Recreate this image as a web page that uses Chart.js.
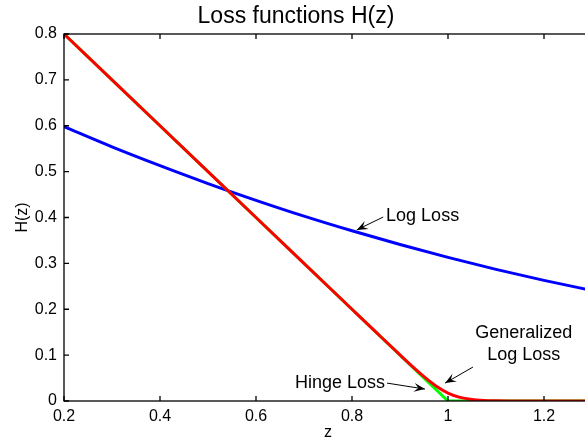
<!DOCTYPE html>
<html>
<head>
<meta charset="utf-8">
<script src="https://cdn.jsdelivr.net/npm/chart.js@4"></script>
<style>
  html, body { margin: 0; padding: 0; overflow: hidden; background: #fff; }
  #wrap { width: 656px; height: 445px; }
</style>
</head>
<body>
<div id="wrap"><canvas id="c"></canvas></div>
<script>
// values
const zLog = [0.2, 0.3, 0.4, 0.5, 0.6, 0.7, 0.8, 0.9, 1.0, 1.1, 1.2, 1.3]
const logLoss = [0.598, 0.554, 0.513, 0.474, 0.4375, 0.403, 0.371, 0.341, 0.313, 0.287, 0.263, 0.241]

const zHinge = [0.2, 1.0, 1.3]
const hingeLoss = [0.8, 0, 0]

const zGen = [0.2, 0.4, 0.6, 0.8, 0.85, 0.9, 0.925, 0.95, 0.975, 1.0, 1.025, 1.05, 1.075, 1.1, 1.15, 1.2, 1.3]
const genLoss = [0.8, 0.6, 0.4, 0.2, 0.1501, 0.1005, 0.0762, 0.0532, 0.0328, 0.0173, 0.0078, 0.0032, 0.0012, 0.0005, 0.0001, 0, 0]

const xTicks = [0.2, 0.4, 0.6, 0.8, 1.0, 1.2]
const yTicks = [0, 0.1, 0.2, 0.3, 0.4, 0.5, 0.6, 0.7, 0.8]

// text arrows, in data units
const notes = [
  { lines: ['Log Loss'], at: [0.871, 0.403], align: 'left', tail: [0.865, 0.401], tip: [0.810, 0.373] },
  { lines: ['Generalized', 'Log Loss'], at: [1.158, 0.148], align: 'center', tail: [1.052, 0.074], tip: [0.994, 0.039] },
  { lines: ['Hinge Loss'], at: [0.869, 0.039], align: 'right', tail: [0.873, 0.039], tip: [0.952, 0.026] }
]

const FONT = "'Liberation Sans', Arial, sans-serif"
const pts = (xs, ys) => xs.map((x, i) => ({ x: x, y: ys[i] }))
const fmt = (v) => String(+Number(v).toFixed(2))

const frame = {
  id: 'frame',
  afterDraw(chart) {
    const { ctx, chartArea: a, scales } = chart
    ctx.save()
    ctx.strokeStyle = '#000'
    ctx.lineWidth = 1.3
    ctx.strokeRect(a.left, a.top, a.right - a.left, a.bottom - a.top)
    ctx.beginPath()
    xTicks.forEach(v => {
      const x = scales.x.getPixelForValue(v)
      ctx.moveTo(x, a.bottom); ctx.lineTo(x, a.bottom - 5)
      ctx.moveTo(x, a.top); ctx.lineTo(x, a.top + 5)
    })
    yTicks.forEach(v => {
      const y = scales.y.getPixelForValue(v)
      ctx.moveTo(a.left, y); ctx.lineTo(a.left + 5, y)
    })
    ctx.stroke()

    // annotations
    ctx.fillStyle = '#000'
    ctx.font = '18px ' + FONT
    ctx.textBaseline = 'middle'
    notes.forEach(n => {
      const tx = scales.x.getPixelForValue(n.at[0])
      const ty = scales.y.getPixelForValue(n.at[1])
      ctx.textAlign = n.align
      n.lines.forEach((s, i) => ctx.fillText(s, tx, ty + i * 22))
      const x0 = scales.x.getPixelForValue(n.tail[0]), y0 = scales.y.getPixelForValue(n.tail[1])
      const x1 = scales.x.getPixelForValue(n.tip[0]), y1 = scales.y.getPixelForValue(n.tip[1])
      const ang = Math.atan2(y1 - y0, x1 - x0)
      ctx.lineWidth = 1
      ctx.beginPath(); ctx.moveTo(x0, y0); ctx.lineTo(x1, y1); ctx.stroke()
      const L = 11, W = 4.5
      const bx = x1 - L * Math.cos(ang), by = y1 - L * Math.sin(ang)
      const nx = x1 - 0.6 * L * Math.cos(ang), ny = y1 - 0.6 * L * Math.sin(ang)
      ctx.beginPath()
      ctx.moveTo(x1, y1)
      ctx.lineTo(bx + W * Math.sin(ang), by - W * Math.cos(ang))
      ctx.lineTo(nx, ny)
      ctx.lineTo(bx - W * Math.sin(ang), by + W * Math.cos(ang))
      ctx.closePath()
      ctx.fill()
    })
    ctx.restore()
  }
}

new Chart(document.getElementById('c'), {
  type: 'scatter',
  data: {
    datasets: [
      { label: 'Log Loss', data: pts(zLog, logLoss), borderColor: '#0000ff', order: 2 },
      { label: 'Hinge Loss', data: pts(zHinge, hingeLoss), borderColor: '#00ff00', order: 1, cubicInterpolationMode: 'default', tension: 0 },
      { label: 'Generalized Log Loss', data: pts(zGen, genLoss), borderColor: '#ff0000', order: 0 }
    ]
  },
  options: {
    responsive: true,
    maintainAspectRatio: false,
    animation: false,
    showLine: true,
    datasets: {
      scatter: { showLine: true, pointRadius: 0, borderWidth: 3, cubicInterpolationMode: 'monotone', fill: false }
    },
    layout: { padding: { left: 0, right: 64, top: 0, bottom: 0 } },
    plugins: {
      legend: { display: false },
      tooltip: { enabled: false },
      title: {
        display: true,
        text: 'Loss functions H(z)',
        color: '#000',
        font: { family: FONT, size: 23, weight: 'normal' },
        padding: { top: 3, bottom: 3.4 }
      }
    },
    scales: {
      x: {
        type: 'linear',
        min: 0.2, max: 1.3,
        afterBuildTicks: (s) => { s.ticks = xTicks.map(v => ({ value: v })) },
        afterFit: (s) => { s.height = 44 },
        grid: { display: false, drawTicks: false },
        border: { display: false },
        ticks: { color: '#000', font: { family: FONT, size: 16 }, padding: 6, maxRotation: 0, autoSkip: false, callback: fmt },
        title: { display: true, text: 'z', color: '#000', font: { family: FONT, size: 16 }, padding: { top: 0, bottom: 2.4 } }
      },
      y: {
        type: 'linear',
        min: 0, max: 0.8,
        afterBuildTicks: (s) => { s.ticks = yTicks.map(v => ({ value: v })) },
        afterFit: (s) => { s.width = 64 },
        grid: { display: false, drawTicks: false },
        border: { display: false },
        ticks: { color: '#000', font: { family: FONT, size: 16 }, padding: 7, autoSkip: false, callback: fmt },
        title: { display: true, text: 'H(z)', color: '#000', font: { family: FONT, size: 16 }, padding: { top: 13, bottom: 0 } }
      }
    }
  },
  plugins: [frame]
})
</script>
</body>
</html>
